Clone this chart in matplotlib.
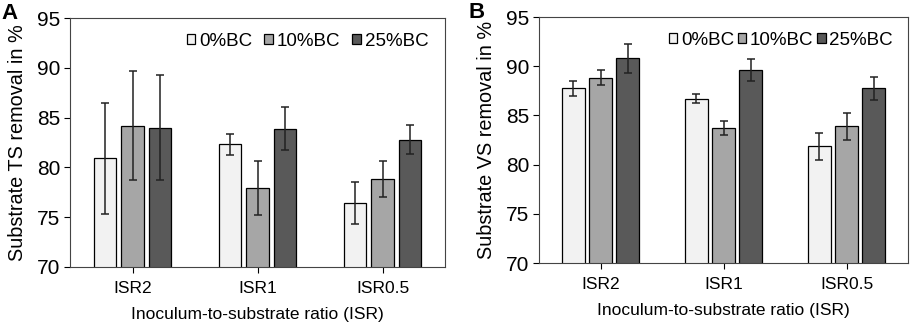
import matplotlib
matplotlib.use("Agg")
import matplotlib.pyplot as plt
import numpy as np

plt.rcParams['font.family'] = ['Liberation Sans', 'DejaVu Sans']

categories = ["ISR2", "ISR1", "ISR0.5"]
series = ["0%BC", "10%BC", "25%BC"]
colors = ["#f2f2f2", "#a6a6a6", "#595959"]

ts_values = [[80.9, 82.3, 76.4], [84.2, 77.9, 78.8], [84.0, 83.9, 82.8]]
ts_errors = [[5.6, 1.05, 2.1], [5.5, 2.7, 1.8], [5.3, 2.2, 1.5]]
vs_values = [[87.75, 86.7, 81.85], [88.85, 83.75, 83.9], [90.8, 89.6, 87.75]]
vs_errors = [[0.75, 0.45, 1.4], [0.8, 0.7, 1.35], [1.5, 1.15, 1.15]]

fig = plt.figure(figsize=(9.13, 3.24), dpi=100)
W, H = 913, 324
axA = fig.add_axes([70 / W, 1 - 267 / H, 375 / W, 249 / H])
axB = fig.add_axes([539 / W, 1 - 263 / H, 369 / W, 246 / H])

def draw(ax, vals, errs, ylabel, label, colspace, lab_x, leg_x):
    x = np.arange(len(categories))
    width = 0.18
    offs = [-0.22, 0.0, 0.22]
    for i, s in enumerate(series):
        ax.bar(x + offs[i], vals[i], width, color=colors[i], edgecolor="black",
               linewidth=0.9, label=s, zorder=2)
        ax.errorbar(x + offs[i], vals[i], yerr=errs[i], fmt="none", ecolor="#222222",
                    elinewidth=1.1, capsize=3.2, capthick=1.1, zorder=3)
    ax.set_xlim(-0.5, 2.5)
    ax.set_ylim(70, 95)
    ax.set_yticks([70, 75, 80, 85, 90, 95])
    ax.set_xticks(x)
    ax.set_xticklabels(categories)
    ax.tick_params(axis="y", labelsize=15, direction="out", length=4, width=0.8, pad=3)
    ax.tick_params(axis="x", labelsize=12.5, direction="out", length=4, width=0.8, pad=6)
    for sp in ax.spines.values():
        sp.set_linewidth(0.8)
        sp.set_color("#444444")
    ax.set_ylabel(ylabel, fontsize=14.3, labelpad=7)
    ax.set_xlabel("Inoculum-to-substrate ratio (ISR)", fontsize=12.5, labelpad=8)
    ax.legend(loc="upper right", ncol=3, frameon=False, fontsize=13.5,
              handlelength=0.45, handleheight=0.45, handletextpad=0.2,
              columnspacing=colspace, borderaxespad=0.2, bbox_to_anchor=(leg_x, 0.985))
    ax.text(lab_x, 0.975, label, transform=ax.transAxes, fontsize=16, fontweight="bold",
            va="bottom", ha="left")

draw(axA, ts_values, ts_errors, "Substrate TS removal in %", "A", 0.65, -0.183, 0.985)
draw(axB, vs_values, vs_errors, "Substrate VS removal in %", "B", 0.2, -0.19, 0.99)

fig.savefig("out.png", dpi=100)
